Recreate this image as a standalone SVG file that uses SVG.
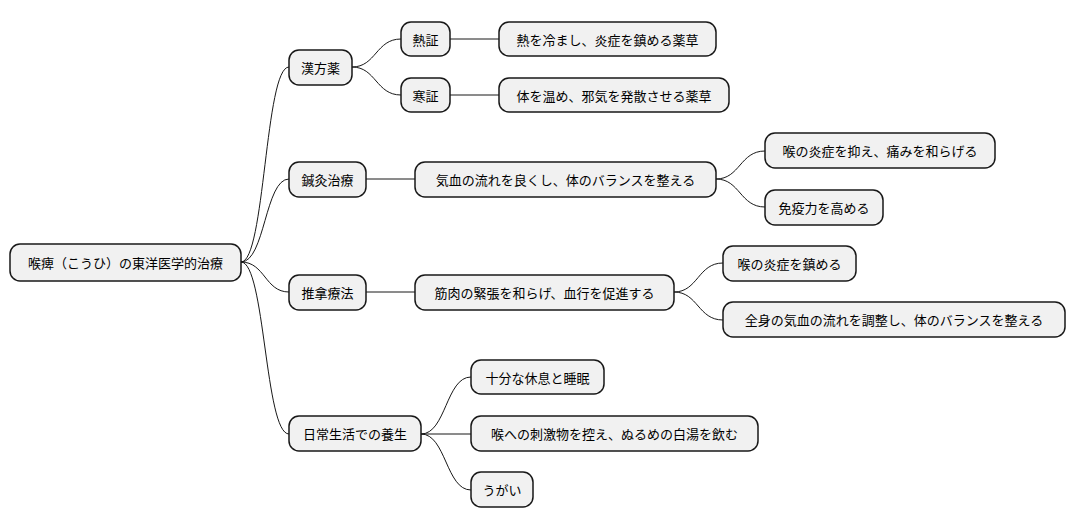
<svg xmlns="http://www.w3.org/2000/svg" width="1076" height="527" viewBox="0 0 1076 527">
<style>
.n rect{fill:#F1F1F1;stroke:#181818;stroke-width:1.5}
.n text{font-family:"Noto Sans CJK JP","Noto Sans",sans-serif;font-size:13px;fill:#000;text-anchor:middle;dominant-baseline:central}
#edges path{fill:none;stroke:#181818;stroke-width:1}
</style>
<rect width="1076" height="527" fill="#fff"/>
<g id="edges">
<path d="M241 262 C265 262 265 67 289 67"/>
<path d="M241 262 C265 262 265 179 289 179"/>
<path d="M241 262 C265 262 265 292 289 292"/>
<path d="M241 262 C265 262 265 434 289 434"/>
<path d="M352 67 C376 67 376 39 401 39"/>
<path d="M352 67 C376 67 376 95 401 95"/>
<path d="M450 39 L499 39"/>
<path d="M450 95 L499 95"/>
<path d="M366 179 L415 179"/>
<path d="M716 179 C740 179 740 151 765 151"/>
<path d="M716 179 C740 179 740 207 765 207"/>
<path d="M366 292 L415 292"/>
<path d="M674 292 C698 292 698 263 723 263"/>
<path d="M674 292 C698 292 698 320 723 320"/>
<path d="M421 434 C446 434 446 377 471 377"/>
<path d="M421 434 L471 434"/>
<path d="M421 434 C446 434 446 490 471 490"/>
</g>
<g id="root" class="n"><rect x="10" y="244" width="231" height="37" rx="10"/><text x="125.5" y="262.5">喉痺（こうひ）の東洋医学的治療</text></g>
<g id="kampo" class="n"><rect x="289" y="50" width="63" height="35" rx="10"/><text x="320.5" y="67.5">漢方薬</text></g>
<g id="netsu" class="n"><rect x="401" y="22" width="49" height="34" rx="10"/><text x="425.5" y="39">熱証</text></g>
<g id="netsu2" class="n"><rect x="499" y="22" width="217" height="34" rx="10"/><text x="607.5" y="39">熱を冷まし、炎症を鎮める薬草</text></g>
<g id="kan" class="n"><rect x="401" y="78" width="49" height="34" rx="10"/><text x="425.5" y="95">寒証</text></g>
<g id="kan2" class="n"><rect x="499" y="78" width="230" height="34" rx="10"/><text x="614" y="95">体を温め、邪気を発散させる薬草</text></g>
<g id="shinkyu" class="n"><rect x="289" y="162" width="77" height="35" rx="10"/><text x="327.5" y="179.5">鍼灸治療</text></g>
<g id="shinkyu2" class="n"><rect x="415" y="162" width="301" height="35" rx="10"/><text x="565.5" y="179.5">気血の流れを良くし、体のバランスを整える</text></g>
<g id="shinkyu3" class="n"><rect x="765" y="133" width="230" height="35" rx="10"/><text x="880" y="150.5">喉の炎症を抑え、痛みを和らげる</text></g>
<g id="shinkyu4" class="n"><rect x="765" y="190" width="118" height="35" rx="10"/><text x="824" y="207.5">免疫力を高める</text></g>
<g id="suina" class="n"><rect x="289" y="275" width="77" height="35" rx="10"/><text x="327.5" y="292.5">推拿療法</text></g>
<g id="suina2" class="n"><rect x="415" y="275" width="259" height="35" rx="10"/><text x="544.5" y="292.5">筋肉の緊張を和らげ、血行を促進する</text></g>
<g id="suina3" class="n"><rect x="723" y="246" width="133" height="35" rx="10"/><text x="789.5" y="263.5">喉の炎症を鎮める</text></g>
<g id="suina4" class="n"><rect x="723" y="302" width="342" height="35" rx="10"/><text x="894" y="319.5">全身の気血の流れを調整し、体のバランスを整える</text></g>
<g id="nichijo" class="n"><rect x="289" y="416" width="132" height="35" rx="10"/><text x="355" y="433.5">日常生活での養生</text></g>
<g id="nichijo1" class="n"><rect x="471" y="360" width="133" height="34" rx="10"/><text x="537.5" y="377">十分な休息と睡眠</text></g>
<g id="nichijo2" class="n"><rect x="471" y="416" width="287" height="35" rx="10"/><text x="614.5" y="433.5">喉への刺激物を控え、ぬるめの白湯を飲む</text></g>
<g id="nichijo3" class="n"><rect x="471" y="472" width="62" height="35" rx="10"/><text x="502" y="489.5">うがい</text></g>
</svg>
